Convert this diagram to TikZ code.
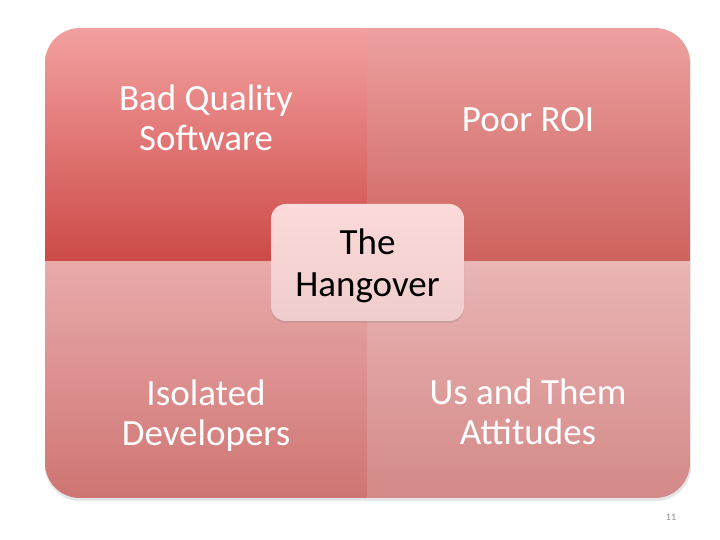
\documentclass[tikz,border=0pt]{standalone}
\usepackage{fontspec}
\setmainfont{Carlito}
\usetikzlibrary{shadows}

\definecolor{tlTop}{HTML}{F3A0A0}
\definecolor{tlBot}{HTML}{CC4A47}
\definecolor{trTop}{HTML}{ECA1A0}
\definecolor{trBot}{HTML}{CD625E}
\definecolor{blTop}{HTML}{E9AAAA}
\definecolor{blBot}{HTML}{CE7573}
\definecolor{brTop}{HTML}{E9B5B5}
\definecolor{brBot}{HTML}{D38987}
\definecolor{hubTop}{HTML}{FDDADA}
\definecolor{hubBot}{HTML}{EFCDCD}

\tikzset{
  quadtext/.style={text=white, align=center, font=\fontsize{37}{40}\selectfont},
  hubbox/.style={rounded corners=15pt, minimum width=193pt, minimum height=117pt,
    top color=hubTop, bottom color=hubBot, align=center, text depth=0pt,
    font=\fontsize{37}{42}\selectfont,
    drop shadow={opacity=0.25, shadow xshift=0pt, shadow yshift=-2pt}}
}

\begin{document}
\begin{tikzpicture}[x=1pt,y=1pt]
\useasboundingbox[fill=white] (0,0) rectangle (720,540);

\fill[black, opacity=0.10, rounded corners=35pt] (45,39) rectangle (691,510);
\begin{scope}
  \clip[rounded corners=35pt] (45,42) rectangle (690,512);
  \shade[top color=tlTop, bottom color=tlBot] (45,278) rectangle (367,512);
  \shade[top color=trTop, bottom color=trBot] (367,278) rectangle (690,512);
  \shade[top color=blTop, bottom color=blBot] (45,42) rectangle (367,278);
  \shade[top color=brTop, bottom color=brBot] (367,42) rectangle (690,278);
\end{scope}

\node[quadtext] (badq) at (206,422) {Bad Quality\\Software};
\node[quadtext] (roi) at (528,420) {Poor ROI};
\node[quadtext] (isol) at (206,124) {Isolated\\Developers};
\node[quadtext] (usthem) at (528,128) {Us and Them\\Attitudes};

\node[hubbox] (hub) at (367.5,277.5) {The\\Hangover};

\node[text=black!45, font=\fontsize{10}{12}\selectfont] (page) at (671,23) {11};
\end{tikzpicture}
\end{document}
